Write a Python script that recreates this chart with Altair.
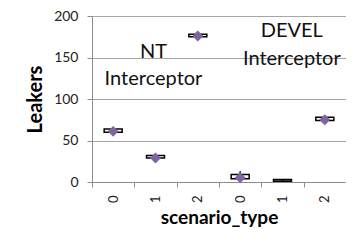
import altair as alt
import pandas as pd

groups = ["NT", "NT", "NT", "DEVEL", "DEVEL", "DEVEL"]
scenario = ["0", "1", "2", "0", "1", "2"]
q1 = [60, 29, 175, 4, 1, 74]
q3 = [64, 32, 178, 9, 3, 78]
whisk_lo = [60, 29, 175, 4, 1, 74]
whisk_hi = [64, 32, 178, 13, 3, 78]
means = [61, 29, 176, 5, None, 75]

ann_cat = ["NT|1", "NT|1", "DEVEL|2", "DEVEL|2"]
ann_text = ["NT", "Interceptor", "DEVEL", "Interceptor"]
ann_y = [149, 117, 175, 141]
ann_dx = [-2, -2, -33, -33]

keys = [f"{g}|{s}" for g, s in zip(groups, scenario)]
df = pd.DataFrame({"key": keys, "q1": q1, "q3": q3, "lo": whisk_lo,
                   "hi": whisk_hi, "mean": means})
ann = pd.DataFrame({"key": ann_cat, "text": ann_text, "y": ann_y, "dx": ann_dx})

FONT = "Lato"
xscale = alt.Scale(domain=keys, paddingInner=0, paddingOuter=0)
yscale = alt.Scale(domain=[0, 200])

x = alt.X("key:N", scale=xscale, sort=keys,
          axis=alt.Axis(title="scenario_type", labelExpr="split(datum.label, '|')[1]",
                        labelAngle=270, labelAlign="right", labelBaseline="middle",
                        tickBand="extent", tickSize=5, labelPadding=8,
                        labelFont=FONT, labelFontSize=13, labelColor="#222",
                        titleFont=FONT, titleFontSize=19, titleFontWeight="bold",
                        titleColor="#000", titlePadding=6,
                        domainColor="#8c8c8c", tickColor="#8c8c8c"))

box = alt.Chart(df).mark_bar(size=18, fill="white", stroke="black",
                             strokeWidth=1.5).encode(
    x=x,
    y=alt.Y("q1:Q", scale=yscale,
            axis=alt.Axis(title="Leakers", values=[0, 50, 100, 150, 200],
                          grid=True, gridColor="#a6a6a6", gridWidth=1,
                          tickSize=5, tickColor="#8c8c8c", domainColor="#8c8c8c",
                          labelFont=FONT, labelFontSize=14, labelColor="#222",
                          labelPadding=9,
                          titleFont=FONT, titleFontSize=20, titleFontWeight="bold",
                          titleColor="#000", titlePadding=8)),
    y2="q3:Q",
)

whisker = alt.Chart(df).mark_rule(color="black", strokeWidth=1.5).encode(
    x=alt.X("key:N", scale=xscale, sort=keys),
    y=alt.Y("lo:Q", scale=yscale),
    y2="hi:Q",
)

mean_pts = alt.Chart(df).transform_filter("isValid(datum.mean)").mark_point(
    shape="diamond", filled=True, color="#8064A2", size=120, opacity=1).encode(
    x=alt.X("key:N", scale=xscale, sort=keys),
    y=alt.Y("mean:Q", scale=yscale),
)

labels = alt.layer(*[
    alt.Chart(ann.iloc[[i]]).mark_text(font=FONT, fontSize=20, color="#111",
                                       align="center", baseline="alphabetic",
                                       dx=int(ann_dx[i])).encode(
        x=alt.X("key:N", scale=xscale, sort=keys),
        y=alt.Y("y:Q", scale=yscale),
        text="text:N",
    ) for i in range(len(ann_text))
])

chart = alt.layer(box, whisker, mean_pts, labels).properties(
    width=254, height=166,
    autosize=alt.AutoSizeParams(type="none"),
    padding={"left": 84, "top": 8, "right": 0, "bottom": 51},
).configure_view(stroke=None).configure(background="white")

chart.save("out.html", embed_options={"renderer": "svg", "actions": False})
